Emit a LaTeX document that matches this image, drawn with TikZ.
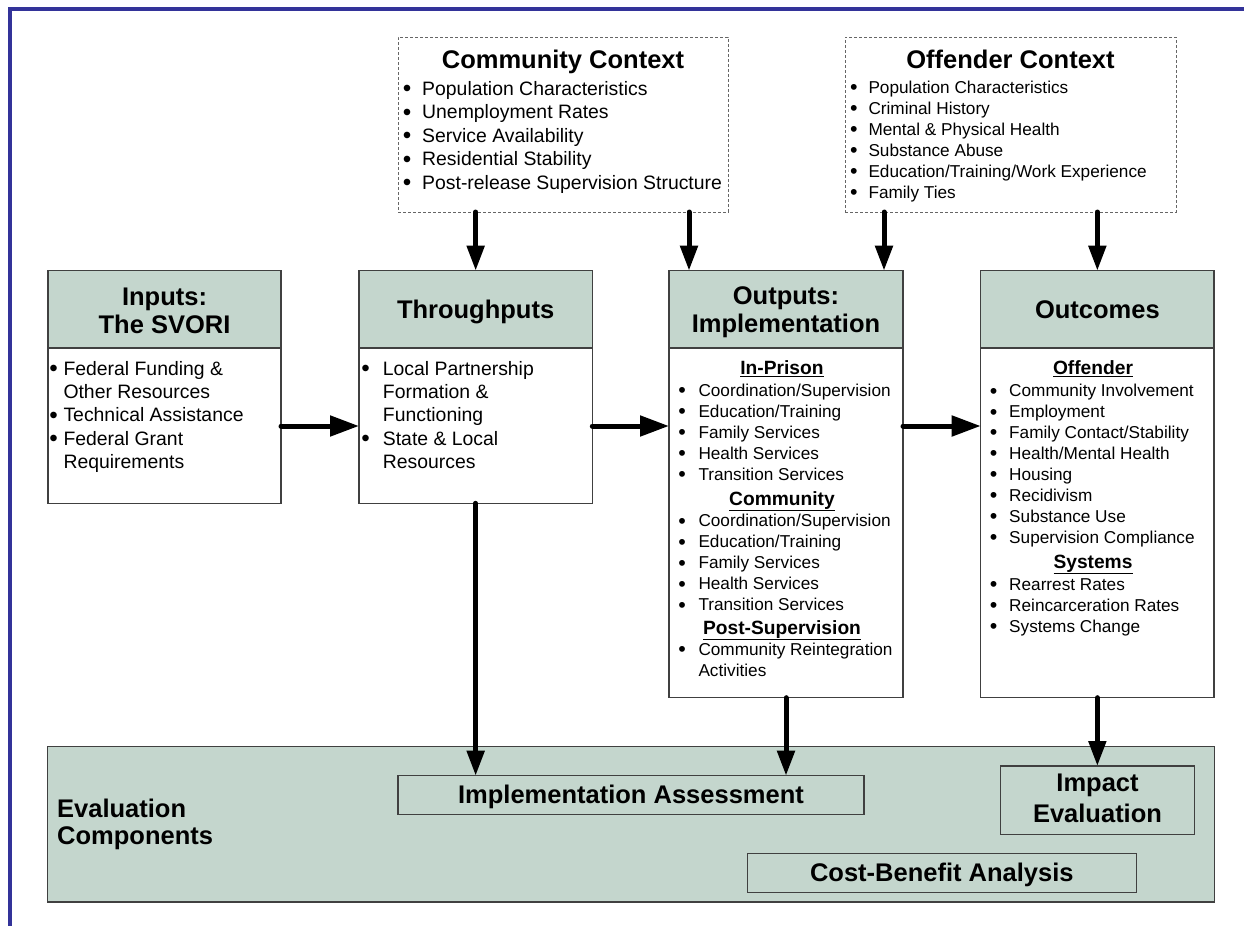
\documentclass[tikz,border=0pt]{standalone}
\usepackage{fontspec}
\setmainfont{Liberation Sans}
\usetikzlibrary{arrows.meta}
\definecolor{framecol}{RGB}{51,51,153}
\definecolor{hdrfill}{RGB}{196,214,205}
\definecolor{edgecol}{RGB}{64,64,64}
\newcommand\blt[1]{\llap{\makebox[0pt][c]{\raisebox{-0.08em}{\scalebox{1.25}{\textbullet}}}\hspace{#1pt}}}
\newcommand\fs[2]{\fontsize{#1pt}{#2pt}\selectfont}
\begin{document}
\begin{tikzpicture}[x=1pt,y=-1pt,
  box/.style={draw=edgecol, line width=1.5pt, fill=white, inner sep=0pt, outer sep=0pt, anchor=north west, rectangle},
  hbox/.style={box, fill=hdrfill},
  ebox/.style={box, fill=hdrfill, line width=1.2pt},
  ctx/.style={draw=edgecol!80, dash pattern=on 3pt off 2pt, line width=1pt, inner sep=0pt, outer sep=0pt, anchor=north west, rectangle},
  ttl/.style={inner sep=0pt, anchor=base, font=\fs{25.5}{28}\bfseries},
  big/.style={inner sep=0pt, anchor=base west, font=\fs{19.4}{23}},
  sml/.style={inner sep=0pt, anchor=base west, font=\fs{17.2}{21}},
  sub/.style={inner sep=0pt, anchor=base, font=\fs{19.2}{22}\bfseries},
  arr/.style={line width=5pt, line cap=round, -{Triangle[length=25pt,width=17pt]}},
  harr/.style={line width=5pt, line cap=round, -{Triangle[length=29pt,width=20pt]}},
]
\useasboundingbox (0,0) rectangle (1244,926);
% frame
\fill[framecol] (8,7) rectangle (1244,11);
\fill[framecol] (8,7) rectangle (12,926);

% Community context
\node[ctx, minimum width=330pt, minimum height=175pt] (cc) at (398,37) {};
\node[ttl] (cct) at (563,68.3) {Community Context};
\foreach \t [count=\i] in {Population Characteristics,Unemployment Rates,Service Availability,Residential Stability,Post-release Supervision Structure}
  \node[big] (cc\i) at (422,{95+23.5*(\i-1)}) {\blt{15}\t};

% Offender context
\node[ctx, minimum width=331pt, minimum height=175pt] (oc) at (845,37) {};
\node[ttl] (oct) at (1010.5,68.3) {Offender Context};
\foreach \t [count=\i] in {Population Characteristics,Criminal History,Mental \& Physical Health,Substance Abuse,Education/Training/Work Experience,Family Ties}
  \node[sml] (oc\i) at (868.3,{93.3+21*(\i-1)}) {\blt{14.5}\t};

% Inputs
\node[box, minimum width=233pt, minimum height=232.6pt] (inp) at (48,270.7) {};
\node[hbox, minimum width=233pt, minimum height=77.3pt] (inph) at (48,270.7) {};
\node[ttl] (inpt1) at (164.5,305) {Inputs:};
\node[ttl] (inpt2) at (164.5,333) {The SVORI};
\node[big] (in1) at (63.3,375) {\blt{10}Federal Funding \&};
\node[big] (in2) at (63.3,398.3) {Other Resources};
\node[big] (in3) at (63.3,421.7) {\blt{10}Technical Assistance};
\node[big] (in4) at (63.3,445) {\blt{10}Federal Grant};
\node[big] (in5) at (63.3,468.3) {Requirements};

% Throughputs
\node[box, minimum width=233.3pt, minimum height=232.6pt] (thr) at (359,270.7) {};
\node[hbox, minimum width=233.3pt, minimum height=77.3pt] (thrh) at (359,270.7) {};
\node[ttl] (thrt) at (475.6,318.4) {Throughputs};
\node[big] (th1) at (382.7,375) {\blt{17.4}Local Partnership};
\node[big] (th2) at (382.7,398.3) {Formation \&};
\node[big] (th3) at (382.7,421.7) {Functioning};
\node[big] (th4) at (382.7,445) {\blt{17.4}State \& Local};
\node[big] (th5) at (382.7,468.3) {Resources};

% Outputs
\node[box, minimum width=234pt, minimum height=427pt] (out) at (669,270.7) {};
\node[hbox, minimum width=234pt, minimum height=77.3pt] (outh) at (669,270.7) {};
\node[ttl] (outt1) at (786,304) {Outputs:};
\node[ttl] (outt2) at (786,332) {Implementation};
\node[sub] (os1) at (782,374.3) {\underline{In-Prison}};
\foreach \t [count=\i] in {Coordination/Supervision,Education/Training,Family Services,Health Services,Transition Services}
  \node[sml] (oa\i) at (698.3,{396+21*(\i-1)}) {\blt{16.3}\t};
\node[sub] (os2) at (782,505) {\underline{Community}};
\foreach \t [count=\i] in {Coordination/Supervision,Education/Training,Family Services,Health Services,Transition Services}
  \node[sml] (ob\i) at (698.3,{526.7+21*(\i-1)}) {\blt{16.3}\t};
\node[sub] (os3) at (782,634) {\underline{Post-Supervision}};
\node[sml] (oc1x) at (698.3,655) {\blt{16.3}Community Reintegration};
\node[sml] (oc2x) at (698.3,676) {Activities};

% Outcomes
\node[box, minimum width=233.3pt, minimum height=427pt] (otc) at (980.7,270.7) {};
\node[hbox, minimum width=233.3pt, minimum height=77.3pt] (otch) at (980.7,270.7) {};
\node[ttl] (otct) at (1097.4,318.4) {Outcomes};
\node[sub] (ts1) at (1093,374.3) {\underline{Offender}};
\foreach \t [count=\i] in {Community Involvement,Employment,Family Contact/Stability,Health/Mental Health,Housing,Recidivism,Substance Use,Supervision Compliance}
  \node[sml] (ta\i) at (1009,{396.7+20.95*(\i-1)}) {\blt{15.7}\t};
\node[sub] (ts2) at (1093,568.3) {\underline{Systems}};
\foreach \t [count=\i] in {Rearrest Rates,Reincarceration Rates,Systems Change}
  \node[sml] (tb\i) at (1009,{590+21*(\i-1)}) {\blt{15.7}\t};

% Evaluation panel
\node[ebox, minimum width=1166.6pt, minimum height=155.3pt, line width=1.5pt] (ev) at (47.7,746.7) {};
\node[ttl, anchor=base west] (evt1) at (57,817.3) {Evaluation};
\node[ttl, anchor=base west] (evt2) at (57,844) {Components};
\node[ebox, minimum width=466pt, minimum height=38.6pt] (ia) at (398,775.7) {};
\node[ttl] (iat) at (631,803.3) {Implementation Assessment};
\node[ebox, minimum width=194.4pt, minimum height=68.3pt] (ie) at (1000.3,766) {};
\node[ttl] (iet1) at (1097.5,791.7) {Impact};
\node[ttl] (iet2) at (1097.5,822.7) {Evaluation};
\node[ebox, minimum width=389pt, minimum height=38.6pt] (cba) at (747.3,853.7) {};
\node[ttl] (cbat) at (941.8,881.5) {Cost-Benefit Analysis};

% connectors
\coordinate (hy) at (0,426);
\coordinate (c2) at (689,0);
\coordinate (c3) at (884,0);
\draw[harr] (inp.east |- hy) -- (thr.west |- hy);
\draw[harr] (thr.east |- hy) -- (out.west |- hy);
\draw[harr] (out.east |- hy) -- (otc.west |- hy);
\draw[arr] (cc.south -| thr.north) -- (thr.north);
\draw[arr] (cc.south -| c2) -- (out.north -| c2);
\draw[arr] (oc.south -| c3) -- (out.north -| c3);
\draw[arr] (oc.south -| otc.north) -- (otc.north);
\draw[arr] (thr.south) -- (ia.north -| thr.south);
\draw[arr] (out.south) -- (ia.north -| out.south);
\draw[arr] (otc.south) -- (ie.north -| otc.south);
\end{tikzpicture}
\end{document}
